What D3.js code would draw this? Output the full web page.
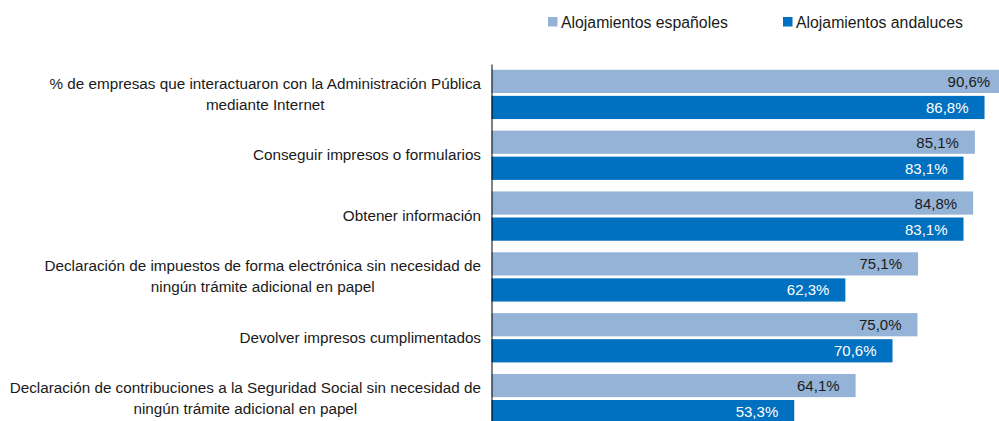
<!DOCTYPE html>
<html><head><meta charset="utf-8">
<script src="https://cdn.jsdelivr.net/npm/d3@7"></script>
<style>
html,body{margin:0;padding:0;background:#fff;overflow:hidden}
text{font-family:"Liberation Sans",Arial,sans-serif}
</style></head>
<body><svg id="c" width="999" height="421"></svg>
<script>
const categories = [
  ["% de empresas que interactuaron con la Administración Pública", "mediante Internet"],
  ["Conseguir impresos o formularios"],
  ["Obtener información"],
  ["Declaración de impuestos de forma electrónica sin necesidad de", "ningún trámite adicional en papel"],
  ["Devolver impresos cumplimentados"],
  ["Declaración de contribuciones a la Seguridad Social sin necesidad de", "ningún trámite adicional en papel"]
];
const seriesNames = ["Alojamientos españoles", "Alojamientos andaluces"];
const espanoles = [90.6, 85.1, 84.8, 75.1, 75.0, 64.1];
const andaluces = [86.8, 83.1, 83.1, 62.3, 70.6, 53.3];
const colors = ["#95B3D7", "#0070C0"];

const svg = d3.select("#c");
const fmt = v => d3.format(".1f")(v).replace(".", ",") + "%";

const x = d3.scaleLinear().domain([0, 100]).range([491.5, 1059.5]);
const y = d3.scaleBand().domain(d3.range(categories.length)).range([64, 429])
  .paddingInner(0.19).paddingOuter(0.095);
const yi = d3.scaleBand().domain([0, 1]).range([0, y.bandwidth()]).paddingInner(0.11);

const data = categories.map((c, i) => ({i, vals: [espanoles[i], andaluces[i]]}));

const g = svg.append("g");
const grp = g.selectAll("g.grp").data(data).join("g").attr("class", "grp")
  .attr("transform", d => `translate(0,${y(d.i)})`);
grp.selectAll("rect").data(d => d.vals.map((v, s) => ({v, s}))).join("rect")
  .attr("x", x(0)).attr("y", d => yi(d.s)).attr("height", yi.bandwidth())
  .attr("width", d => x(d.v) - x(0)).attr("fill", d => colors[d.s]);
grp.selectAll("text.val").data(d => d.vals.map((v, s) => ({v, s}))).join("text")
  .attr("class", "val")
  .attr("x", d => x(d.v) - 16).attr("y", d => yi(d.s) + yi.bandwidth() / 2 + 5.5)
  .attr("text-anchor", "end").attr("font-size", 15)
  .attr("fill", d => d.s === 0 ? "#1a1a1a" : "#ffffff")
  .text(d => fmt(d.v));

// axis
const ax = svg.append("g").attr("transform", `translate(${x(0)},0)`)
  .call(d3.axisLeft(y).tickSize(0).tickSizeOuter(0).tickFormat(""));
ax.select(".domain").attr("stroke", "#000").attr("stroke-width", 1);

// category labels
const labelRight = 481;
categories.forEach((lines, i) => {
  const cy = y(i) + y.bandwidth() / 2 + 5;
  const t = svg.append("text").attr("font-size", 15.25).attr("fill", "#1a1a1a")
    .attr("text-anchor", "middle");
  const n = lines.length;
  const spans = lines.map((ln, k) => t.append("tspan").attr("y", cy + (k - (n - 1) / 2) * 21).text(ln));
  const w = d3.max(spans, s => s.node().getComputedTextLength());
  spans.forEach(s => s.attr("x", labelRight - w / 2));
});

// legend
const legX = [548, 783];
const leg = svg.append("g");
seriesNames.forEach((name, s) => {
  leg.append("rect").attr("x", legX[s]).attr("y", 17).attr("width", 9.5).attr("height", 9.5).attr("fill", colors[s]);
  leg.append("text").attr("x", legX[s] + 13).attr("y", 27.5).attr("font-size", 15.8).attr("fill", "#1a1a1a").text(name);
});
</script></body></html>
